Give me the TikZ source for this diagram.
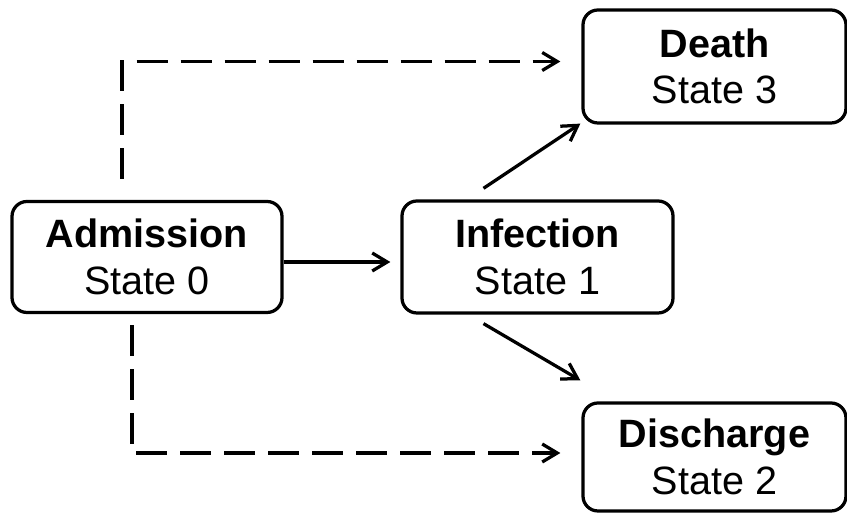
\documentclass[tikz,border=0pt]{standalone}
\usepackage{fontspec}
\setmainfont{Liberation Sans}
\usetikzlibrary{arrows.meta}

\begin{document}
\begin{tikzpicture}[
  stbox/.style={draw, line width=0.065cm, rounded corners=0.3cm,
    align=center, inner sep=0pt,
    font=\fontsize{22.5}{26.5}\selectfont},
  solidarr/.style={line width=0.065cm,
    -{Straight Barb[length=0.3cm,width=0.36cm,line width=0.065cm]}},
  dasharr/.style={solidarr, dash pattern=on 0.62cm off 0.26cm}
  ]
  \useasboundingbox (0, 0) rectangle (16.94, 10.26);

  \node[stbox, minimum width=5.4cm, minimum height=2.22cm]
    (adm) at (2.94, 5.12) {\textbf{Admission}\\State 0};
  \node[stbox, minimum width=5.42cm, minimum height=2.24cm]
    (inf) at (10.75, 5.12) {\textbf{Infection}\\State 1};
  \node[stbox, minimum width=5.26cm, minimum height=2.26cm]
    (death) at (14.29, 8.93) {\textbf{Death}\\State 3};
  \node[stbox, minimum width=5.26cm, minimum height=2.16cm]
    (dis) at (14.29, 1.12) {\textbf{Discharge}\\State 2};

  \draw[solidarr] ([yshift=-0.1cm]adm.east)
    -- ([xshift=-0.2cm, yshift=-0.1cm]inf.west);
  \draw[solidarr] ([xshift=-1.08cm, yshift=0.22cm]inf.north)
    -- ([xshift=-0.02cm, yshift=0.02cm]death.south west);
  \draw[solidarr] ([xshift=-1.08cm, yshift=-0.18cm]inf.south)
    -- ([xshift=-0.02cm, yshift=0.42cm]dis.north west);

  \draw[dasharr] ([xshift=-0.5cm, yshift=0.42cm]adm.north)
    |- ([xshift=-0.42cm, yshift=0.1cm]death.west);
  \draw[dasharr] ([xshift=-0.3cm, yshift=-0.22cm]adm.south)
    |- ([xshift=-0.42cm, yshift=0.08cm]dis.west);

\end{tikzpicture}
\end{document}
